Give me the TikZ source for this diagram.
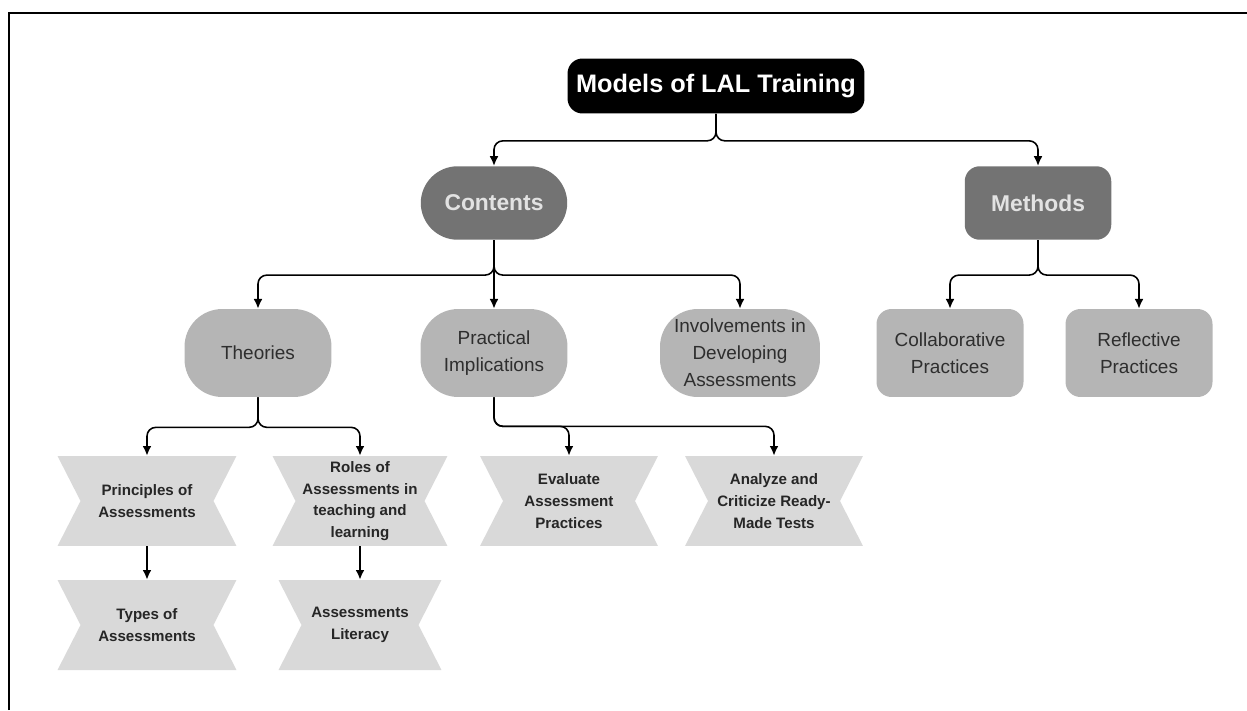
\documentclass[tikz,border=0pt]{standalone}
\usepackage{fontspec}
\setmainfont{Liberation Sans}
\usetikzlibrary{arrows.meta}
\definecolor{darkbox}{HTML}{737373}
\definecolor{midbox}{HTML}{B5B5B5}
\definecolor{lightbox}{HTML}{D9D9D9}
\definecolor{paletext}{HTML}{E2E2E2}
\definecolor{inktext}{HTML}{2E2E2E}
\begin{document}
\begin{tikzpicture}[x=0.02cm, y=-0.02cm,
    link/.style={line width=0.9pt, rounded corners=5pt, -{Latex[length=5.5pt,width=5pt]}},
    rootbox/.style={fill=black, text=white, rounded corners=8.5pt, minimum width=5.94cm, minimum height=1.1cm, font=\bfseries\fontsize{14.4}{17}\selectfont},
    groupbox/.style={fill=darkbox, text=paletext, minimum width=2.93cm, minimum height=1.47cm, font=\bfseries\fontsize{13}{15}\selectfont},
    topicbox/.style={fill=midbox, text=inktext, align=center, minimum width=2.94cm, minimum height=1.76cm, font=\fontsize{10.8}{15.3}\selectfont},
    notchbox/.style={align=center, text=black!85, minimum width=#1, minimum height=1.8cm, inner sep=0pt, font=\bfseries\fontsize{8.6}{12.3}\selectfont,
      path picture={\fill[lightbox] (path picture bounding box.north west) -- (path picture bounding box.north east)
        -- ([xshift=-0.46cm]path picture bounding box.east) -- (path picture bounding box.south east)
        -- (path picture bounding box.south west) -- ([xshift=0.46cm]path picture bounding box.west) -- cycle;}},
    notchbox/.default=3.58cm]
  \useasboundingbox (0,0) rectangle (1247,710);
  \draw[line width=1.2pt] (9,710) -- (9,13) -- (1247,13);

  % top and the two groups
  \node[rootbox] (root) at (716,86) {Models of LAL Training};
  \node[groupbox, rounded corners=21pt] (contents) at (494,203) {Contents};
  \node[groupbox, rounded corners=8.5pt] (methods) at (1038,203) {Methods};

  % topics
  \node[topicbox, rounded corners=21.5pt] (theories) at (258,353) {Theories};
  \node[topicbox, rounded corners=21.5pt] (practical) at (494,353) {Practical\\Implications};
  \node[topicbox, rounded corners=21.5pt, minimum width=3.2cm] (involve) at (740,353) {Involvements in\\Developing\\Assessments};
  \node[topicbox, rounded corners=8.5pt] (collab) at (950,353) {Collaborative\\Practices};
  \node[topicbox, rounded corners=8.5pt] (reflect) at (1139,353) {Reflective\\Practices};

  % notched boxes
  \node[notchbox] (principles) at (147,501) {Principles of\\Assessments};
  \node[notchbox=3.5cm] (roles) at (360,501) {Roles of\\Assessments in\\teaching and\\learning};
  \node[notchbox] (types) at (147,625) {Types of\\Assessments};
  \node[notchbox=3.26cm] (literacy) at (360,625) {Assessments\\Literacy};
  \node[notchbox=3.56cm] (evaluate) at (569,501) {Evaluate\\Assessment\\Practices};
  \node[notchbox=3.56cm] (analyze) at (774,501) {Analyze and\\Criticize Ready-\\Made Tests};

  % connectors
  \foreach \to in {contents,methods}
    \draw[link] (root.south) -- ++(0,27) -| (\to.north);
  \foreach \to in {theories,practical,involve}
    \draw[link] (contents.south) -- ++(0,35) -| (\to.north);
  \foreach \to in {collab,reflect}
    \draw[link] (methods.south) -- ++(0,35) -| (\to.north);
  \foreach \to in {principles,roles}
    \draw[link] (theories.south) -- ++(0,30) -| (\to.north);
  \foreach \to in {evaluate,analyze}
    \draw[link] (practical.south) -- ++(0,29) -| (\to.north);
  \draw[link] (principles.south) -- (types.north);
  \draw[link] (roles.south) -- (literacy.north);
\end{tikzpicture}
\end{document}
